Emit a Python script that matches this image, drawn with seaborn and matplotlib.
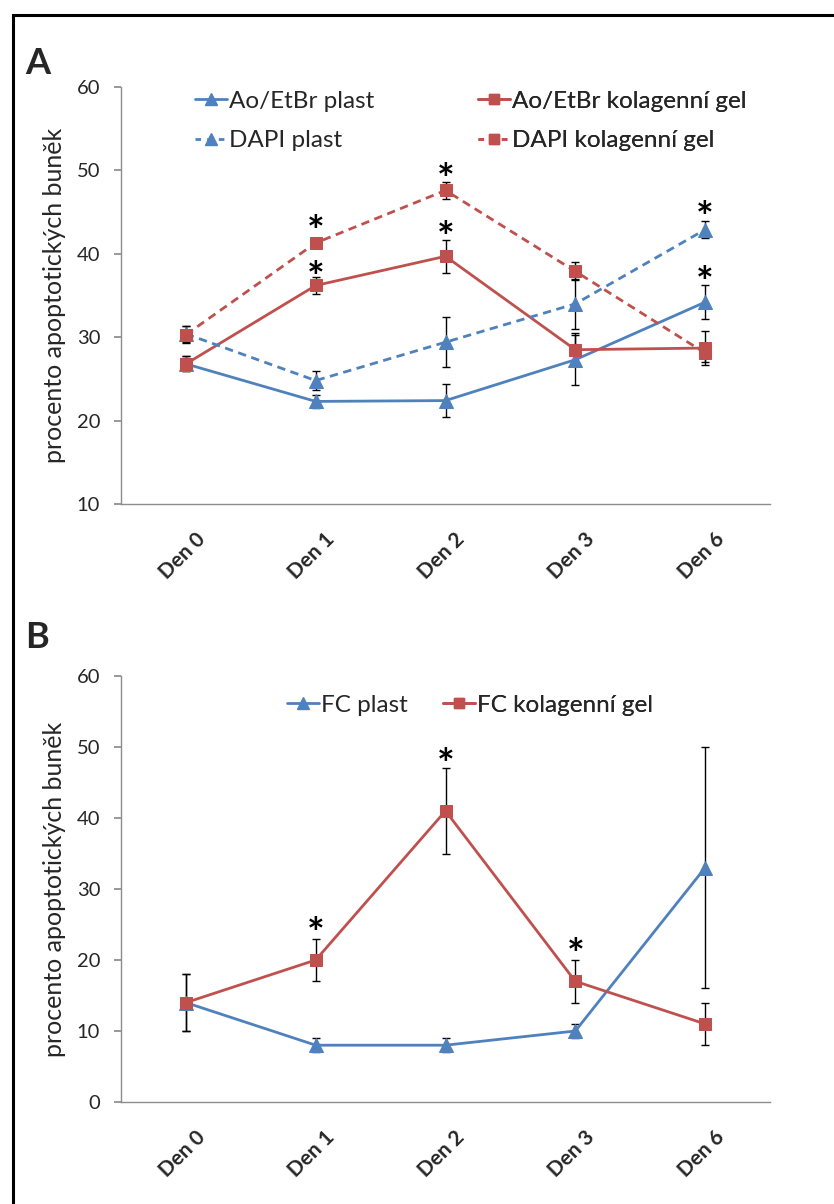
import numpy as np
import pandas as pd
import matplotlib
matplotlib.use("Agg")
import matplotlib.pyplot as plt
import matplotlib.transforms as mtransforms
import seaborn as sns
from matplotlib.lines import Line2D
from matplotlib.patches import Rectangle

sns.set_theme(style="white")
plt.rcParams['font.family'] = ['Lato', 'DejaVu Sans']

days = ["Den 0", "Den 1", "Den 2", "Den 3", "Den 6"]

# Panel A
ao_plast = [26.8, 22.3, 22.4, 27.3, 34.2]
ao_plast_err = [0.9, 0.8, 2.0, 3.0, 2.0]
ao_gel = [26.8, 36.2, 39.7, 28.5, 28.7]
ao_gel_err = [0.9, 1.0, 2.0, 2.0, 2.0]
dapi_plast = [30.4, 24.8, 29.4, 34.0, 42.9]
dapi_plast_err = [1.0, 1.1, 3.0, 3.0, 1.0]
dapi_gel = [30.3, 41.3, 47.6, 37.9, 28.1]
dapi_gel_err = [1.0, 0.5, 1.0, 1.1, 1.1]
stars_a_x = ["Den 1", "Den 1", "Den 2", "Den 2", "Den 6", "Den 6"]
stars_a_y = [44.0, 38.5, 50.2, 43.2, 45.6, 37.9]

# Panel B
fc_plast = [14, 8, 8, 10, 33]
fc_plast_err = [4, 1, 1, 1, 17]
fc_gel = [14, 20, 41, 17, 11]
fc_gel_err = [4, 3, 6, 3, 3]
stars_b_x = ["Den 1", "Den 2", "Den 3"]
stars_b_y = [25.2, 49.1, 22.3]

BLUE = "#4F81BD"
RED = "#C0504D"

fig = plt.figure(figsize=(8.34, 12.04), dpi=100)
W, H = 834, 1204

def ax_at(l, t, r, b):
    return fig.add_axes([l / W, 1 - b / H, (r - l) / W, (b - t) / H])

axA = ax_at(121, 87, 770, 504)
axB = ax_at(121, 676, 770, 1102)

pos = {d: i for i, d in enumerate(days)}

def draw(ax, vals, errs, color, marker, dashed, label):
    df = pd.DataFrame({"x": [pos[d] for d in days], "y": vals})
    ax.errorbar(df["x"], df["y"], yerr=errs, fmt="none", ecolor="black",
                elinewidth=1.0, capsize=3, capthick=1.0, zorder=2)
    sns.lineplot(data=df, x="x", y="y", ax=ax, color=color, marker=marker,
                 markersize=9.5 if marker == "^" else 8.5, markeredgecolor=color,
                 linewidth=2.0, linestyle=(0, (3, 2)) if dashed else "-",
                 zorder=3, legend=False)
    return Line2D([], [], color=color, marker=marker,
                  markersize=8 if marker == "^" else 7,
                  linewidth=2.0, linestyle=(0, (2, 2.2)) if dashed else "-",
                  label=label)

hA = [
    draw(axA, ao_plast, ao_plast_err, BLUE, "^", False, "Ao/EtBr plast"),
    draw(axA, ao_gel, ao_gel_err, RED, "s", False, "Ao/EtBr kolagenní gel"),
    draw(axA, dapi_plast, dapi_plast_err, BLUE, "^", True, "DAPI plast"),
    draw(axA, dapi_gel, dapi_gel_err, RED, "s", True, "DAPI kolagenní gel"),
]
hB = [
    draw(axB, fc_plast, fc_plast_err, BLUE, "^", False, "FC plast"),
    draw(axB, fc_gel, fc_gel_err, RED, "s", False, "FC kolagenní gel"),
]

xoff = mtransforms.ScaledTranslation(16 / 100, 0, fig.dpi_scale_trans)
for ax, lo, sx, sy in [(axA, 10, stars_a_x, stars_a_y), (axB, 0, stars_b_x, stars_b_y)]:
    ax.set_xlim(-0.5, 4.5)
    ax.set_ylim(lo, 60)
    ax.set_yticks(np.arange(lo, 61, 10))
    ax.set_xticks(range(len(days)))
    ax.set_xlabel("")
    ax.set_ylabel("procento apoptotických buněk", fontsize=18, labelpad=8)
    for s in ["top", "right"]:
        ax.spines[s].set_visible(False)
    for s in ["left", "bottom"]:
        ax.spines[s].set_color("#8c8c8c")
        ax.spines[s].set_linewidth(1.0)
    ax.tick_params(axis="y", which="both", left=True, length=5, color="#8c8c8c",
                   labelsize=14.5, pad=10)
    ax.tick_params(axis="x", bottom=False, pad=17)
    ax.set_xticklabels(days, rotation=45, ha="right", va="center",
                       rotation_mode="anchor", fontsize=15, fontweight="bold")
    for lab in ax.get_xticklabels():
        lab.set_transform(lab.get_transform() + xoff)
    for xs, ys in zip(sx, sy):
        ax.annotate("*", xy=(pos[xs], ys), xytext=(0, -9.5), textcoords="offset points",
                    ha="center", va="center", fontsize=30, fontweight="bold",
                    color="black", zorder=5)

def place_legend(ax, handles, x_px, yc_px):
    leg = ax.legend(handles=handles, loc="center left",
                    bbox_to_anchor=(x_px / W, 1 - yc_px / H),
                    bbox_transform=fig.transFigure, frameon=False, fontsize=17.5,
                    handlelength=1.3, handletextpad=0.1, labelspacing=0.75,
                    borderpad=0, borderaxespad=0, numpoints=1)
    ax.add_artist(leg)
    return leg

place_legend(axA, [hA[0], hA[2]], 195, 121)
place_legend(axA, [hA[1], hA[3]], 478, 121)
place_legend(axB, [hB[0]], 287, 705)
place_legend(axB, [hB[1]], 443, 705)

fig.text(37.5 / W, 1 - 63.5 / H, "A", fontsize=26, fontweight="bold", va="center", ha="center")
fig.text(37 / W, 1 - 637 / H, "B", fontsize=26, fontweight="bold", va="center", ha="center")

fig.patches.append(Rectangle((12.7 / W, -0.1), 1.5, 1.1 - 15 / H, transform=fig.transFigure,
                             fill=False, edgecolor="black", linewidth=2.2))

fig.savefig("out.png", dpi=100, facecolor="white")
